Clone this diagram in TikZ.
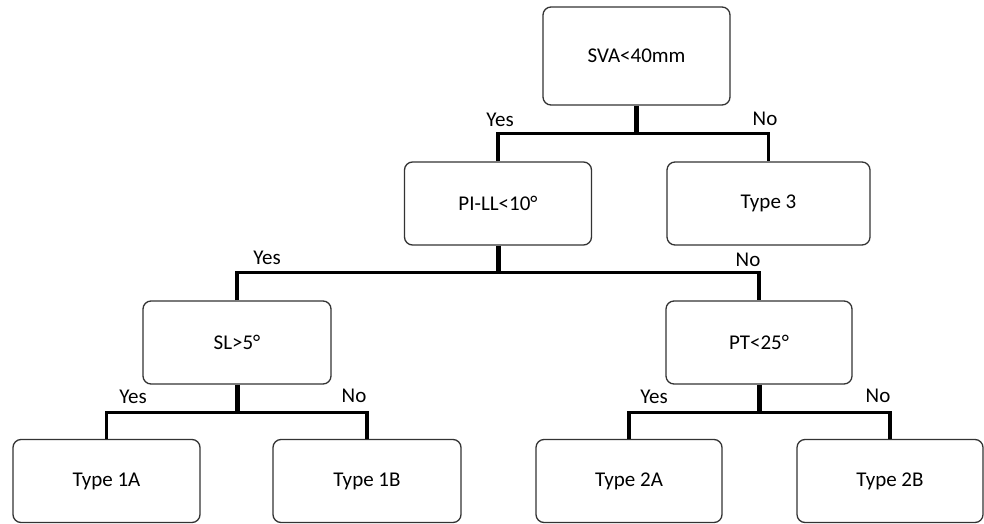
\documentclass[tikz,border=0pt]{standalone}
\usepackage{fontspec}
\setmainfont{Carlito}
\begin{document}
\begin{tikzpicture}[x=1pt,y=-1pt,
  box/.style={draw=black!80,line width=1.3pt,rounded corners=8pt,fill=white,
    minimum width=187pt,minimum height=83pt,inner sep=0pt,font=\fontsize{21}{24}\selectfont},
  lbl/.style={inner sep=0pt,font=\fontsize{21}{24}\selectfont},
  stem/.style={line width=5pt},
  branch/.style={line width=3.3pt}]
\useasboundingbox (0,0) rectangle (984,524);
% nodes
\node[box,minimum height=98pt] (sva) at (636.5,56) {SVA<40mm};
\node[box] (pill) at (498,203.5) {PI-LL<10°};
\node[box,minimum width=203pt] (t3) at (768.5,203.5) {Type 3};
\node[box,minimum width=188pt] (sl) at (237,342.5) {SL>5°};
\node[box,minimum width=186pt] (pt) at (759,342.5) {PT<25°};
\node[box] (t1a) at (106.5,481) {Type 1A};
\node[box,minimum width=188pt] (t1b) at (367,481) {Type 1B};
\node[box,minimum width=186pt] (t2a) at (629,481) {Type 2A};
\node[box,minimum width=186pt] (t2b) at (890,481) {Type 2B};
% connectors
\draw[stem] (sva.south) -- ++(0,28) coordinate (j1);
\draw[branch] (pill.north) |- (j1) -| (t3.north);
\draw[stem] (pill.south) -- ++(0,27) coordinate (j2);
\draw[branch] (sl.north) |- (j2) -| (pt.north);
\draw[stem] (sl.south) -- ++(0,28) coordinate (j3);
\draw[branch] (t1a.north) |- (j3) -| (t1b.north);
\draw[stem] (pt.south) -- ++(0,28) coordinate (j4);
\draw[branch] (t2a.north) |- (j4) -| (t2b.north);
% labels
\node[lbl] (y1) at (500,120) {Yes};
\node[lbl] (n1) at (765,119) {No};
\node[lbl] (y2) at (267,258) {Yes};
\node[lbl] (n2) at (748,260) {No};
\node[lbl] (y3) at (133,397) {Yes};
\node[lbl] (n3) at (354,396) {No};
\node[lbl] (y4) at (654,397) {Yes};
\node[lbl] (n4) at (878,396) {No};
\end{tikzpicture}
\end{document}
